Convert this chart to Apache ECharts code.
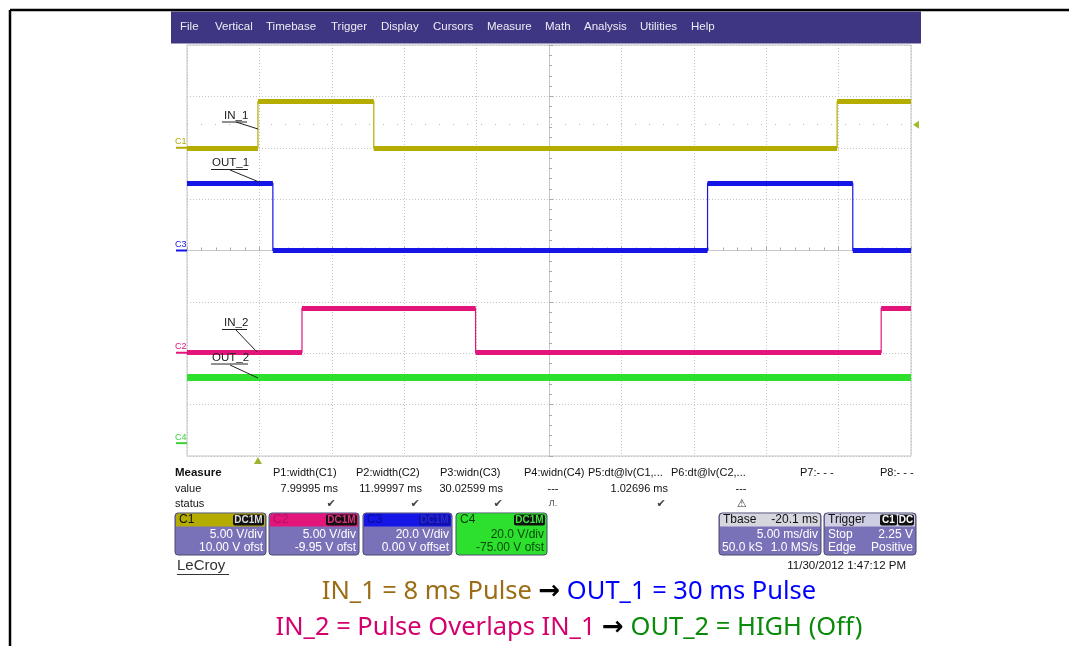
<!DOCTYPE html>
<html><head><meta charset="utf-8">
<script src="https://cdn.jsdelivr.net/npm/echarts@6/dist/echarts.min.js"></script>
<style>html,body{margin:0;padding:0;background:#fff}#c{width:1069px;height:646px}</style>
</head><body><div id="c"></div>
<script>
// Time in ms relative to screen centre (5 ms/div, 10 div); levels in divisions (-4..4, 8 div)
const X_TICKS_MS = [-25, 25];
const IN1_EDGES = [-20.1, -12.1, 19.9];
const IN1_LEVELS = [2.0, 2.9];        // start level, other level
const OUT1_EDGES = [-19.07, 10.95, 20.98];
const OUT1_LEVELS = [1.31, 0.0];
const IN2_EDGES = [-17.06, -5.07, 22.94];
const IN2_LEVELS = [-1.99, -1.12];
const OUT2_EDGES = [];
const OUT2_LEVELS = [-2.47, -2.47];
const GROUND_LEVELS = [2.0, 0.0, -1.99, -3.75]; // C1, C3, C2, C4 markers
const TRIG_LEVEL = 2.45;
const MENU = ['File','Vertical','Timebase','Trigger','Display','Cursors','Measure','Math','Analysis','Utilities','Help'];
const MEAS_HEAD = ['P1:width(C1)','P2:width(C2)','P3:widn(C3)','P4:widn(C4)','P5:dt@lv(C1,...','P6:dt@lv(C2,...','P7:- - -','P8:- - -'];
const MEAS_VAL = ['7.99995 ms','11.99997 ms','30.02599 ms','---','1.02696 ms','---','',''];

const COL = {c1:'#b4ad00', c2:'#e4157a', c3:'#1515e6', c4:'#2ee02e'};
const XMIN = X_TICKS_MS[0], XMAX = X_TICKS_MS[1];

function trace(edges, lv){
  const pts=[[XMIN, lv[0]]]; let cur=0;
  edges.forEach(e=>{ pts.push([e, lv[cur]]); cur=1-cur; pts.push([e, lv[cur]]); });
  pts.push([XMAX, lv[cur]]);
  return pts;
}
function segs(pts){ const out=[]; for(let i=0;i+1<pts.length;i+=2) out.push({coords:[pts[i],pts[i+1]]}); return out; }

const T = {
  c1: trace(IN1_EDGES, IN1_LEVELS),
  c3: trace(OUT1_EDGES, OUT1_LEVELS),
  c2: trace(IN2_EDGES, IN2_LEVELS),
  c4: trace(OUT2_EDGES, OUT2_LEVELS)
};
const chart = echarts.init(document.getElementById('c'), null, {renderer:'canvas'});
const series = [];
[['c1',5],['c3',5],['c2',5],['c4',7]].forEach(([k,w])=>{
  series.push({type:'line', data:T[k], showSymbol:false, silent:true, animation:false,
    lineStyle:{color:COL[k], width:1.2}, z:3,
    markLine: k==='c1' ? {silent:true, symbol:'none', label:{show:false},
      lineStyle:{color:'#b8b8b8', type:[1,13], width:1}, data:[{yAxis:TRIG_LEVEL}]} : undefined});
  series.push({type:'lines', coordinateSystem:'cartesian2d', data:segs(T[k]), silent:true, animation:false,
    lineStyle:{color:COL[k], width:w, opacity:1}, z:4});
});

const F = '"Liberation Sans", Arial, sans-serif';
chart.setOption({
  animation:false,
  grid:{left:187, top:45, width:724, height:411, show:true, borderColor:'#c4c4c4', borderWidth:1, backgroundColor:'#fff'},
  xAxis:{type:'value', min:XMIN, max:XMAX, interval:5,
    axisLine:{onZero:true, lineStyle:{color:'#c8c8c8'}},
    axisTick:{inside:true, length:4, lineStyle:{color:'#aaa'}},
    minorTick:{show:true, splitNumber:5, length:3, lineStyle:{color:'#aaa'}},
    axisLabel:{show:false},
    splitLine:{lineStyle:{color:'#c4c4c4', type:[1,2], width:1}}},
  yAxis:{type:'value', min:-4, max:4, interval:1,
    axisLine:{onZero:true, lineStyle:{color:'#c8c8c8'}},
    axisTick:{inside:true, length:4, lineStyle:{color:'#aaa'}},
    minorTick:{show:true, splitNumber:5, length:3, lineStyle:{color:'#aaa'}},
    axisLabel:{show:false},
    splitLine:{lineStyle:{color:'#c4c4c4', type:[1,2], width:1}}},
  series
});

const g = [];
function txt(x,y,s,o){ g.push({type:'text', x, y, z:20, silent:true, style:Object.assign({text:s, font:'11px '+F, fill:'#111', textVerticalAlign:'middle'}, o||{})}); }
function rect(x,y,w,h,fill,o){ g.push({type:'rect', z:15, silent:true, shape:{x,y,width:w,height:h,r:(o&&o.r)||0}, style:Object.assign({fill}, (o&&o.style)||{})}); }
function line(x1,y1,x2,y2,col,w){ g.push({type:'line', z:18, silent:true, shape:{x1,y1,x2,y2}, style:{stroke:col||'#222', lineWidth:w||1}}); }

// frame
line(10,10,1069,10,'#000',2.5);
line(10,10,10,646,'#000',2.5);
// menu bar
rect(171,11.5,750,32,'#3e3682');
const menuX=[180,215,266,331,381,433,487,545,584,640,691];
MENU.forEach((m,i)=>txt(menuX[i],27,m,{fill:'#ececf4', font:'11.5px '+F}));

// channel ground markers
const GL = [['C1',COL.c1],['C3',COL.c3],['C2',COL.c2],['C4','#3ad03a']];
GROUND_LEVELS.forEach((lv,i)=>{
  const p = chart.convertToPixel({gridIndex:0},[XMIN,lv]);
  line(176,p[1],187,p[1],GL[i][1],2);
  txt(175,p[1]-6,GL[i][0],{fill:GL[i][1], font:'9px '+F});
});
// trigger arrows
const tp = chart.convertToPixel({gridIndex:0},[XMAX,TRIG_LEVEL]);
g.push({type:'polygon', z:20, silent:true, shape:{points:[[tp[0]+2,tp[1]],[tp[0]+8,tp[1]-4],[tp[0]+8,tp[1]+4]]}, style:{fill:'#9cbc2a'}});
const tx = chart.convertToPixel({gridIndex:0},[IN1_EDGES[0],-4]);
g.push({type:'polygon', z:20, silent:true, shape:{points:[[tx[0],tx[1]+1],[tx[0]-4,tx[1]+8],[tx[0]+4,tx[1]+8]]}, style:{fill:'#a0b030'}});

// trace annotations
function ann(label, tx0, ty, ux1, ux2, uy, lx1, ly1, lx2, ly2){
  txt(tx0, ty, label, {font:'11.5px '+F, fill:'#222'});
  line(ux1, uy, ux2, uy, '#222', 1);
  line(lx1, ly1, lx2, ly2, '#222', 1);
}
ann('IN_1', 224, 116, 222, 247, 122, 236, 122, 258, 129);
ann('OUT_1', 212, 163, 211, 248, 169.5, 230, 170, 259, 182);
ann('IN_2', 224, 323, 222, 247, 329.5, 236, 330, 257, 352);
ann('OUT_2', 212, 358, 211, 248, 364, 230, 365, 258, 378);

// measure panel
txt(175,473,'Measure',{font:'bold 11.5px '+F});
txt(175,489,'value'); txt(175,504,'status');
const hx=[273,356,440,524,588,671,800,880];
MEAS_HEAD.forEach((h,i)=>txt(hx[i],473,h));
const vx=[338,422,503,553,668,741];
MEAS_VAL.forEach((v,i)=>{ if(v) txt(vx[i],489,v,{textAlign: v==='---'?'center':'right'}); });
[331,415,498,661].forEach(x=>txt(x,504,'✔',{textAlign:'center', fill:'#444', font:'11px "DejaVu Sans"'}));
txt(553,504,'Л.',{textAlign:'center', fill:'#555', font:'9px '+F});
txt(742,504,'⚠',{textAlign:'center', fill:'#333', font:'11px "DejaVu Sans"'});

// channel boxes
function chBox(x, w, head, headTxtCol, name, badgeFill, badgeTxt, body, bodyTxt, l1, l2){
  rect(x,513,w,42,body,{r:3, style:{stroke:'#4a4a70', lineWidth:1}});
  rect(x+1,513.5,w-2,13,head,{r:[3,3,0,0]});
  txt(x+4,520,name,{fill:headTxtCol, font:'12px '+F});
  rect(x+w-33,514.5,31,11,badgeFill,{r:2});
  txt(x+w-17.5,520,'DC1M',{fill:badgeTxt, font:'bold 10px '+F, textAlign:'center'});
  txt(x+w-3,535,l1,{fill:bodyTxt, font:'12px '+F, textAlign:'right'});
  txt(x+w-3,548,l2,{fill:bodyTxt, font:'12px '+F, textAlign:'right'});
}
chBox(175,91,COL.c1,'#111','C1','#111','#ddd','#7a72b8','#fff','5.00 V/div','10.00 V ofst');
chBox(269,90,COL.c2,'#b01060','C2','#111','#e03080','#7a72b8','#fff','5.00 V/div','-9.95 V ofst');
chBox(363,89,COL.c3,'#0a0a9a','C3','#1010b0','#2a2ad0','#7a72b8','#fff','20.0 V/div','0.00 V offset');
chBox(456,91,COL.c4,'#0b3b0b','C4','#111','#40e040',COL.c4,'#0b4a0b','20.0 V/div','-75.00 V ofst');

// timebase box
rect(719,513,102,42,'#7a72b8',{r:3, style:{stroke:'#4a4a70', lineWidth:1}});
rect(720,513.5,100,13,'#d6d6de',{r:[3,3,0,0]});
txt(723,520,'Tbase',{font:'12px '+F});
txt(818,520,'-20.1 ms',{font:'12px '+F, textAlign:'right'});
txt(818,535,'5.00 ms/div',{font:'12px '+F, textAlign:'right', fill:'#fff'});
txt(722,548,'50.0 kS',{font:'12px '+F, fill:'#fff'});
txt(818,548,'1.0 MS/s',{font:'12px '+F, textAlign:'right', fill:'#fff'});
// trigger box
rect(824,513,92,42,'#7a72b8',{r:3, style:{stroke:'#4a4a70', lineWidth:1}});
rect(825,513.5,90,13,'#cfcfe3',{r:[3,3,0,0]});
txt(828,520,'Trigger',{font:'12px '+F});
rect(880,514.5,17,11,'#111',{r:2}); txt(888.5,520,'C1',{fill:'#fff', font:'bold 10px '+F, textAlign:'center'});
rect(898,514.5,16,11,'#111',{r:2}); txt(906,520,'DC',{fill:'#fff', font:'bold 10px '+F, textAlign:'center'});
txt(828,535,'Stop',{font:'12px '+F, fill:'#fff'});
txt(913,535,'2.25 V',{font:'12px '+F, textAlign:'right', fill:'#fff'});
txt(828,548,'Edge',{font:'12px '+F, fill:'#fff'});
txt(913,548,'Positive',{font:'12px '+F, textAlign:'right', fill:'#fff'});

txt(177,566,'LeCroy',{font:'15px '+F, fill:'#333'});
line(177,574.5,229,574.5,'#333',1);
txt(906,566,'11/30/2012 1:47:12 PM',{font:'11.5px '+F, textAlign:'right'});

// captions
const CF = '"Noto Sans", "Open Sans", sans-serif';
g.push({type:'text', z:20, silent:true, x:569, y:592, style:{text:'{a|IN_1 = 8 ms Pulse }{r|→}{b| OUT_1 = 30 ms Pulse}', textAlign:'center', textVerticalAlign:'middle',
  rich:{a:{fill:'#9b6c14', font:'25.5px '+CF}, r:{fill:'#000', font:'bold 26px "DejaVu Sans"'}, b:{fill:'#0000ff', font:'25.5px '+CF}}}});
g.push({type:'text', z:20, silent:true, x:569, y:628, style:{text:'{a|IN_2 = Pulse Overlaps IN_1 }{r|→}{b| OUT_2 = HIGH (Off)}', textAlign:'center', textVerticalAlign:'middle',
  rich:{a:{fill:'#d4006e', font:'25.5px '+CF}, r:{fill:'#000', font:'bold 26px "DejaVu Sans"'}, b:{fill:'#0a8a0a', font:'25.5px '+CF}}}});

chart.setOption({graphic:g});
</script></body></html>
